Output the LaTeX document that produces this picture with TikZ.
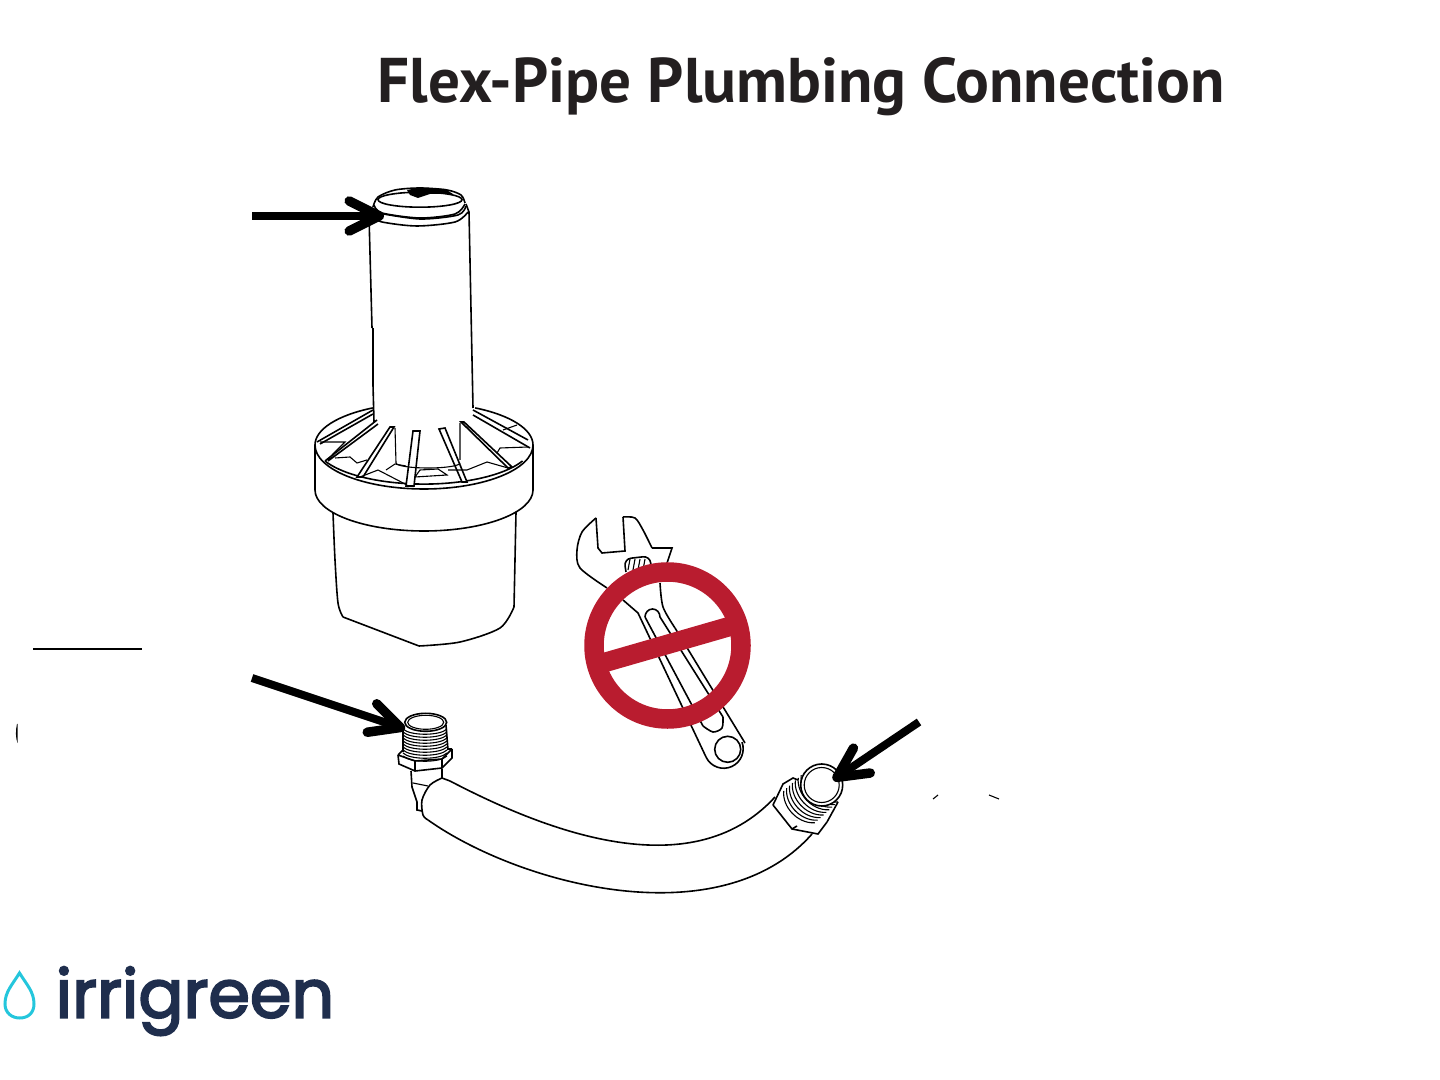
\documentclass[tikz,border=0pt]{standalone}
\usepackage{fontspec}
\usetikzlibrary{arrows.meta,calc}
\newfontfamily\titlefont{PT Sans}
\newfontfamily\logofont{Poppins}[FakeBold=3]
\definecolor{prohibitred}{HTML}{B91C2F}
\definecolor{logonavy}{HTML}{1F2E4D}
\definecolor{logocyan}{HTML}{24C6DC}
\definecolor{titleink}{HTML}{231F20}
\tikzset{
  part/.style={line width=0.16mm,black},
  fine/.style={line width=0.11mm,black},
  callout/.style={line width=0.8mm,black,-{Straight Barb[round,length=3mm,width=3mm,line width=0.95mm]}},
  prohibit/.style={line width=1.95mm,prohibitred}
}
\begin{document}
\begin{tikzpicture}[x=0.01cm,y=-0.01cm]
  \useasboundingbox (0,0) rectangle (1440,1080);
  \node[anchor=base west,inner sep=0,font=\titlefont\bfseries\fontsize{17.96pt}{20pt}\selectfont,text=titleink] (title) at (377,103) {Flex-Pipe Plumbing Connection};

  \draw[part] plot[smooth] coordinates {(373,207) (378,197) (395,190) (420,188) (447,190) (461,195) (465,203)};
  \draw[part] (420,199.7) ellipse [x radius=42,y radius=7.5];
  \fill (407,190) -- (420,187.5) -- (445,189) -- (453,194) -- (430,194) -- (418,198) -- (410,195) -- cycle;
  \draw[part] plot[smooth] coordinates {(374,205) (382,213) (420,218) (455,214) (465,204)};
  \draw[part] plot[smooth] coordinates {(378,213) (420,219) (458,215) (466,206)};
  \draw[part] plot[smooth] coordinates {(369,216) (382,222) (417,226) (455,222) (468,212)};
  \draw[part] (466,204) -- (469,212) -- (473,408);
  \draw[part] (369,216) -- (372,328);
  \draw[fine] (373,328) -- (373,385);
  \draw[part] (373,385) -- (374,422);

  \draw[part] (315,445) arc [start angle=180,end angle=242,x radius=109,y radius=42];
  \draw[part] (533,445) arc [start angle=0,end angle=-62,x radius=109,y radius=42];
  \draw[part] (315,445) arc [start angle=180,end angle=0,x radius=109,y radius=44];
  \draw[part] (325,461) arc [start angle=155,end angle=25,x radius=109,y radius=40];
  \draw[part] (315,445) -- (315,490) arc [start angle=180,end angle=0,x radius=109,y radius=41] -- (533,445);
  \draw[part] plot[smooth] coordinates {(333,513) (335,560) (338,603) (343,617)};
  \draw[part] (343,617) -- (419,646);
  \draw[part] plot[smooth] coordinates {(419,646) (460,642) (500,628) (514,607)};
  \draw[part] (514,607) -- (516,512);

  \draw[part] (317,442) -- (373,410) (320,444) -- (373,414);
  \draw[part] (325,461) -- (377,420) (328,461) -- (378,424);
  \draw[part,fill=white] (357,477) -- (390,427) -- (394,427) -- (363,477) -- cycle;
  \draw[part,fill=white] (406,486) -- (413,431) -- (420,431) -- (414,486) -- cycle;
  \draw[part,fill=white] (439,429) -- (445,428) -- (467,482) -- (462,482) -- cycle;
  \draw[part,fill=white] (461,422) -- (464,422) -- (512,467) -- (508,468) -- cycle;
  \draw[part] (473,415) -- (530,448) (473,410) -- (528,440);
  \draw[fine] (395,428) -- (396,463) (460,423) -- (460,460);
  \draw[fine] (396,463) arc [start angle=180,end angle=0,x radius=32,y radius=5];
  \draw[fine] (320,442) -- (345,442) -- (332,455);
  \draw[fine] (335,458) -- (350,457) -- (357,463) -- (367,460);
  \draw[fine] (360,477) -- (378,470) -- (407,485);
  \draw[fine] (386,470) -- (395,464) -- (406,466);
  \draw[fine] (415,477) -- (420,470) -- (438,469) -- (447,475) -- (415,477);
  \draw[fine] (448,470) -- (467,470) -- (487,462) -- (508,468);
  \draw[fine] (497,453) -- (500,448) -- (528,447);
  \draw[fine] (503,430) -- (517,425);

  \draw[part] plot[smooth] coordinates {(607,588) (580,568) (577,550) (582,532) (596,518)};
  \draw[part] (596,518) -- (598,548) -- (602,553) -- (625,551) -- (623,517);
  \draw[part] plot[smooth] coordinates {(623,517) (635,518) (643,530) (652,548)};
  \draw[part] (652,548) -- (672,548) -- (667,563);
  \draw[part,rounded corners=2pt] (626,572) -- (624,559) -- (650,556) -- (651,566);
  \foreach \x in {630,635,640,645}{
    \draw[fine] (\x,559) -- (\x-2,570);
  }
  \draw[part] (623,600) -- (638,613) -- (706,757);
  \draw[part] (706,757) arc [start angle=155,end angle=-20,x radius=19.5,y radius=19.5];
  \draw[part] (745,743) -- (675,628);
  \draw[part] plot[smooth] coordinates {(675,628) (663,607) (660,583)};
  \draw[part] (727.7,749.3) circle [radius=13];
  \draw[part] (645,617) arc [start angle=180,end angle=360,x radius=7.5,y radius=8] -- (723,717);
  \draw[part] (645,617) -- (703,726);
  \draw[part] plot[smooth] coordinates {(703,726) (713,732) (722,728) (723,717)};

  \coordinate (ringmid) at (667.5,645.5);
  \coordinate (barleft) at (598,664.4);
  \coordinate (barright) at (736,624.6);
  \draw[prohibit] (ringmid) circle [radius=73.5];
  \draw[prohibit] (barleft) -- (barright);

  \draw[part] (450,781) .. controls (540,828) and (690,890) .. (775,797);
  \draw[part] (428,820) .. controls (520,885) and (720,938) .. (812,834);
  \draw[part] plot[smooth] coordinates {(442,778) (430,785) (422,800) (423,815) (428,820)};
  \draw[part] (442,778) -- (450,781);
  \draw[part] (411,771) -- (412,787) -- (417,802) -- (417,810) -- (422,811);
  \draw[part] (442,769) -- (442,778);
  \draw[fine] (413,783) -- (428,786);

  \draw[part] (403,725) -- (403,752) (446,725) -- (448,750);
  \foreach \y in {729,732,...,756}{
    \draw[fine] (403,\y) .. controls (410,\y+7) and (440,\y+7) .. (447,\y);
  }
  \draw[part] (425.7,722.3) ellipse [x radius=21,y radius=9];
  \draw[fine] (425.7,722.3) ellipse [x radius=18,y radius=7];
  \draw[part] (398,755) -- (415,761) -- (442,759) -- (452,749) (398,755) -- (403,750) (452,749) -- (447,749);
  \draw[part] (398,755) -- (399,764) -- (415,771) -- (442,768) -- (452,758) -- (452,749);
  \draw[part] (415,761) -- (415,771) (442,759) -- (442,768);

  \draw[part] (773,805) -- (783,784) -- (793,778) -- (798,780);
  \draw[part] (773,805) -- (792,829) -- (818,834) -- (827,822);
  \draw[part] (792,829) -- (797,826);
  \foreach \t in {0,1,...,8}{
    \draw[fine,shift={(-2.9*\t,2.6*\t)}] (807,770) .. controls (805,785) and (820,803) .. (838,802);
  }
  \draw[part] (838,802) -- (827,822);
  \draw[part,fill=white] (821.7,785) circle [radius=21];
  \draw[fine] (821.7,785) circle [radius=17.5];

  \coordinate (capstart) at (252,216);
  \coordinate (capend) at (384,216);
  \coordinate (inletstart) at (252,678);
  \coordinate (inletend) at (405,729);
  \coordinate (outletstart) at (919,722);
  \coordinate (outletend) at (833,780);
  \draw[callout] (capstart) -- (capend);
  \draw[callout] (inletstart) -- (inletend);
  \draw[callout] (outletstart) -- (outletend);

  \coordinate (ruleleft) at (33,649.5);
  \coordinate (ruleright) at (142,649.5);
  \draw[line width=0.2mm] (ruleleft) -- (ruleright);
  \fill (17,724) .. controls (15.5,730) and (15.5,738) .. (17.5,743) -- (17.5,724) -- cycle;
  \draw[fine] (933,799) -- (938,795) (989,795) -- (999,799);

  \draw[line width=0.3mm,logocyan] (19.5,973) .. controls (12,985) and (5,992) .. (5,1004) .. controls (5,1013) and (12,1018) .. (19.7,1018) .. controls (28,1018) and (34,1013) .. (34,1004) .. controls (34,992) and (27,985) .. cycle;
  \node[anchor=base west,inner sep=0,font=\logofont\fontsize{19pt}{22pt}\selectfont,text=logonavy] (logo) at (55,1017.5) {irrigreen};
\end{tikzpicture}
\end{document}
